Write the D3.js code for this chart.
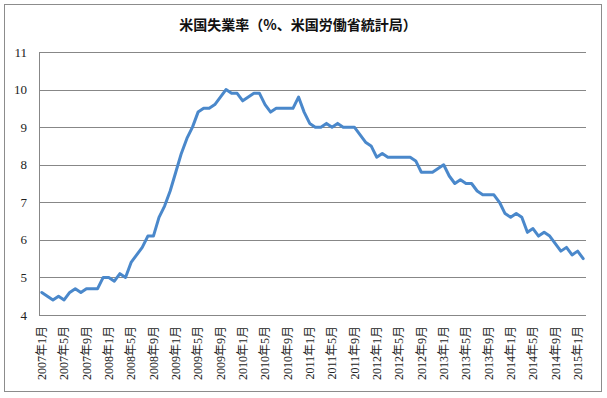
<!DOCTYPE html>
<html>
<head>
<meta charset="utf-8">
<script src="https://cdn.jsdelivr.net/npm/d3@7"></script>
<style>
  html, body { margin: 0; padding: 0; background: #fff; }
</style>
</head>
<body>
<div id="chart"></div>
<script>
// Monthly US unemployment rate (%)
const years = [2007, 2008, 2009, 2010, 2011, 2012, 2013, 2014, 2015];
const rate2007 = [4.6, 4.5, 4.4, 4.5, 4.4, 4.6, 4.7, 4.6, 4.7, 4.7, 4.7, 5.0];
const rate2008 = [5.0, 4.9, 5.1, 5.0, 5.4, 5.6, 5.8, 6.1, 6.1, 6.6, 6.9, 7.3];
const rate2009 = [7.8, 8.3, 8.7, 9.0, 9.4, 9.5, 9.5, 9.6, 9.8, 10.0, 9.9, 9.9];
const rate2010 = [9.7, 9.8, 9.9, 9.9, 9.6, 9.4, 9.5, 9.5, 9.5, 9.5, 9.8, 9.4];
const rate2011 = [9.1, 9.0, 9.0, 9.1, 9.0, 9.1, 9.0, 9.0, 9.0, 8.8, 8.6, 8.5];
const rate2012 = [8.2, 8.3, 8.2, 8.2, 8.2, 8.2, 8.2, 8.1, 7.8, 7.8, 7.8, 7.9];
const rate2013 = [8.0, 7.7, 7.5, 7.6, 7.5, 7.5, 7.3, 7.2, 7.2, 7.2, 7.0, 6.7];
const rate2014 = [6.6, 6.7, 6.6, 6.2, 6.3, 6.1, 6.2, 6.1, 5.9, 5.7, 5.8, 5.6];
const rate2015 = [5.7, 5.5];

const tickLabels = [
  "2007年1月", "2007年5月", "2007年9月", "2008年1月", "2008年5月", "2008年9月",
  "2009年1月", "2009年5月", "2009年9月", "2010年1月", "2010年5月", "2010年9月",
  "2011年1月", "2011年5月", "2011年9月", "2012年1月", "2012年5月", "2012年9月",
  "2013年1月", "2013年5月", "2013年9月", "2014年1月", "2014年5月", "2014年9月",
  "2015年1月"
];
const yTicks = [4, 5, 6, 7, 8, 9, 10, 11];
const title = "米国失業率（%、米国労働省統計局）";

const byYear = [rate2007, rate2008, rate2009, rate2010, rate2011, rate2012, rate2013, rate2014, rate2015];
const data = [];
byYear.forEach((vals, yi) => {
  vals.forEach((v, mi) => data.push({ month: `${years[yi]}年${mi + 1}月`, value: v }));
});

const width = 607, height = 398;
const plot = { left: 39, right: 586, top: 52, bottom: 315 };
const gridColor = "#878787";

const svg = d3.select("#chart")
  .append("svg")
    .attr("width", width)
    .attr("height", height)
    .attr("viewBox", [0, 0, width, height]);

svg.append("rect")
    .attr("width", width).attr("height", height)
    .attr("fill", "#fff");

// outer frame
svg.append("rect")
    .attr("x", 4.5).attr("y", 4.5)
    .attr("width", 597).attr("height", 387)
    .attr("fill", "none")
    .attr("stroke", "#8c8c8c");

const x = d3.scaleBand()
    .domain(data.map(d => d.month))
    .range([plot.left, plot.right]);

const y = d3.scaleLinear()
    .domain([4, 11])
    .range([plot.bottom, plot.top]);

// gridlines
svg.append("g")
  .selectAll("line")
  .data(yTicks)
  .join("line")
    .attr("x1", plot.left)
    .attr("x2", plot.right)
    .attr("y1", d => Math.round(y(d)) + 0.5)
    .attr("y2", d => Math.round(y(d)) + 0.5)
    .attr("stroke", gridColor);

// left axis line
svg.append("line")
    .attr("x1", plot.left + 0.5).attr("x2", plot.left + 0.5)
    .attr("y1", y(11)).attr("y2", y(4))
    .attr("stroke", gridColor);

// y labels
svg.append("g")
    .attr("font-family", "'Liberation Serif', 'DejaVu Serif', serif")
    .attr("font-size", 13)
    .attr("fill", "#222")
  .selectAll("text")
  .data(yTicks)
  .join("text")
    .attr("x", 27)
    .attr("y", d => y(d))
    .attr("dy", "0.35em")
    .attr("text-anchor", "end")
    .text(d => d);

// x labels, vertical
svg.append("g")
    .attr("font-family", "'Liberation Serif', 'Noto Sans CJK JP', serif")
    .attr("font-size", 12)
    .attr("fill", "#222")
  .selectAll("text")
  .data(tickLabels)
  .join("text")
    .attr("transform", d => `translate(${x(d) + x.bandwidth() / 2},326) rotate(-90)`)
    .attr("dy", "0.35em")
    .attr("text-anchor", "end")
    .text(d => d);

// the series
const line = d3.line()
    .x(d => x(d.month) + x.bandwidth() / 2)
    .y(d => y(d.value));

svg.append("path")
    .datum(data)
    .attr("d", line)
    .attr("fill", "none")
    .attr("stroke", "#4a88cb")
    .attr("stroke-width", 3)
    .attr("stroke-linejoin", "round")
    .attr("stroke-linecap", "round");

// title
svg.append("text")
    .attr("x", 298)
    .attr("y", 30)
    .attr("text-anchor", "middle")
    .attr("font-family", "'Noto Sans CJK JP', sans-serif")
    .attr("font-weight", "bold")
    .attr("font-size", 14)
    .attr("fill", "#111")
    .text(title);
</script>
</body>
</html>
